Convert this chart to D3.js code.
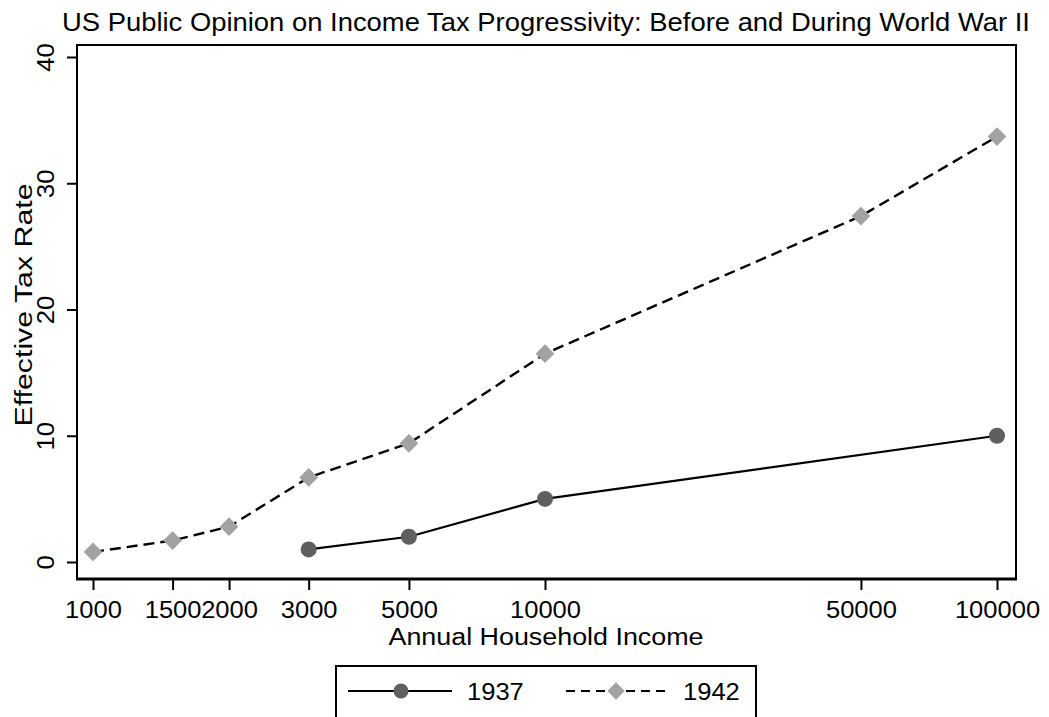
<!DOCTYPE html>
<html>
<head>
<meta charset="utf-8">
<script src="https://cdn.jsdelivr.net/npm/d3@7"></script>
<style>
  html, body { margin: 0; padding: 0; background: #fff; }
  svg { display: block; }
  text { font-family: "Liberation Sans", Arial, sans-serif; fill: #000; }
</style>
</head>
<body>
<svg id="chart" width="1049" height="717"></svg>
<script>
// Effective tax rate (%) the public considered fair, by annual household income
const income1937 = [3000, 5000, 10000, 100000];
const rate1937   = [1, 2, 5, 10];
const income1942 = [1000, 1500, 2000, 3000, 5000, 10000, 50000, 100000];
const rate1942   = [0.8, 1.7, 2.8, 6.7, 9.4, 16.5, 27.4, 33.7];

const xTickValues = [1000, 1500, 2000, 3000, 5000, 10000, 50000, 100000];
const yTickValues = [0, 10, 20, 30, 40];
const seriesNames = ["1937", "1942"];

const chartTitle = "US Public Opinion on Income Tax Progressivity: Before and During World War II";
const xTitle = "Annual Household Income";
const yTitle = "Effective Tax Rate";

const svg = d3.select("#chart");

// plot region frame
const frame = { left: 77, top: 45, right: 1016, bottom: 579 };

const x = d3.scaleLog().domain([1000, 100000]).range([93, 997]);
const y = d3.scaleLinear().domain([0, 40]).range([562, 57]);

const FONT = 23;
const DIGIT_W = 14.2;

// title
svg.append("text")
  .attr("x", 62).attr("y", 31)
  .attr("font-size", 25)
  .attr("textLength", 968).attr("lengthAdjust", "spacingAndGlyphs")
  .text(chartTitle);

// frame
svg.append("rect")
  .attr("x", frame.left).attr("y", frame.top)
  .attr("width", frame.right - frame.left)
  .attr("height", frame.bottom - frame.top)
  .attr("fill", "none").attr("stroke", "#000").attr("stroke-width", 2);
svg.append("line")
  .attr("x1", frame.left - 1).attr("x2", frame.right + 1)
  .attr("y1", frame.bottom).attr("y2", frame.bottom)
  .attr("stroke", "#000").attr("stroke-width", 3);

// y axis
const yAxis = d3.axisLeft(y).tickValues(yTickValues).tickSize(10).tickSizeOuter(0);
const gy = svg.append("g").attr("transform", `translate(${frame.left},0)`).call(yAxis);
gy.select(".domain").remove();
gy.selectAll(".tick line").attr("stroke", "#000").attr("stroke-width", 2);
gy.selectAll(".tick text").remove();
gy.selectAll(".tick").append("text")
  .attr("transform", "translate(-23,0) rotate(-90)")
  .attr("text-anchor", "middle")
  .attr("font-size", FONT)
  .attr("textLength", d => String(d).length * DIGIT_W)
  .attr("lengthAdjust", "spacingAndGlyphs")
  .text(d => d);

// x axis
const xAxis = d3.axisBottom(x).tickValues(xTickValues).tickSize(11).tickSizeOuter(0);
const gx = svg.append("g").attr("transform", `translate(0,${frame.bottom})`).call(xAxis);
gx.select(".domain").remove();
gx.selectAll(".tick line").attr("stroke", "#000").attr("stroke-width", 2);
gx.selectAll(".tick text").remove();
gx.selectAll(".tick").append("text")
  .attr("y", 39)
  .attr("text-anchor", "middle")
  .attr("font-size", FONT)
  .attr("textLength", d => String(d).length * DIGIT_W)
  .attr("lengthAdjust", "spacingAndGlyphs")
  .text(d => d);

// axis titles
svg.append("text")
  .attr("x", 546).attr("y", 645)
  .attr("text-anchor", "middle")
  .attr("font-size", FONT)
  .attr("textLength", 315).attr("lengthAdjust", "spacingAndGlyphs")
  .text(xTitle);
svg.append("text")
  .attr("transform", "translate(32,305) rotate(-90)")
  .attr("text-anchor", "middle")
  .attr("font-size", FONT)
  .attr("textLength", 243).attr("lengthAdjust", "spacingAndGlyphs")
  .text(yTitle);

// series
const s1937 = income1937.map((v, i) => ({ inc: v, rate: rate1937[i] }));
const s1942 = income1942.map((v, i) => ({ inc: v, rate: rate1942[i] }));

const line = d3.line().x(d => x(d.inc)).y(d => y(d.rate));

const DASH = "11,6";
const CIRCLE_FILL = "#5f5f5f";
const DIAMOND_FILL = "#a2a2a2";

svg.append("path").datum(s1942)
  .attr("d", line).attr("fill", "none")
  .attr("stroke", "#000").attr("stroke-width", 2.4)
  .attr("stroke-dasharray", DASH);
svg.append("path").datum(s1937)
  .attr("d", line).attr("fill", "none")
  .attr("stroke", "#000").attr("stroke-width", 2.2);

const diamond = d3.symbol().type(d3.symbolSquare).size(175);
svg.append("g").selectAll("path").data(s1942).join("path")
  .attr("d", diamond)
  .attr("transform", d => `translate(${x(d.inc)},${y(d.rate)}) rotate(45)`)
  .attr("fill", DIAMOND_FILL);

svg.append("g").selectAll("circle").data(s1937).join("circle")
  .attr("cx", d => x(d.inc)).attr("cy", d => y(d.rate))
  .attr("r", 8).attr("fill", CIRCLE_FILL);

// legend
const lg = svg.append("g");
lg.append("rect")
  .attr("x", 336).attr("y", 666).attr("width", 420).attr("height", 80)
  .attr("fill", "#fff").attr("stroke", "#000").attr("stroke-width", 2);
const ly = 691;
lg.append("line").attr("x1", 348).attr("x2", 452).attr("y1", ly).attr("y2", ly)
  .attr("stroke", "#000").attr("stroke-width", 2);
lg.append("circle").attr("cx", 401).attr("cy", ly).attr("r", 7.5).attr("fill", CIRCLE_FILL);
lg.append("text").attr("x", 467).attr("y", ly + 8.5)
  .attr("font-size", FONT)
  .attr("textLength", 4 * DIGIT_W).attr("lengthAdjust", "spacingAndGlyphs")
  .text(seriesNames[0]);

lg.append("line").attr("x1", 566).attr("x2", 668).attr("y1", ly).attr("y2", ly)
  .attr("stroke", "#000").attr("stroke-width", 2).attr("stroke-dasharray", "9,6");
lg.append("path").attr("d", d3.symbol().type(d3.symbolSquare).size(150))
  .attr("transform", `translate(616,${ly}) rotate(45)`).attr("fill", DIAMOND_FILL);
lg.append("text").attr("x", 683).attr("y", ly + 8.5)
  .attr("font-size", FONT)
  .attr("textLength", 4 * DIGIT_W).attr("lengthAdjust", "spacingAndGlyphs")
  .text(seriesNames[1]);
</script>
</body>
</html>
